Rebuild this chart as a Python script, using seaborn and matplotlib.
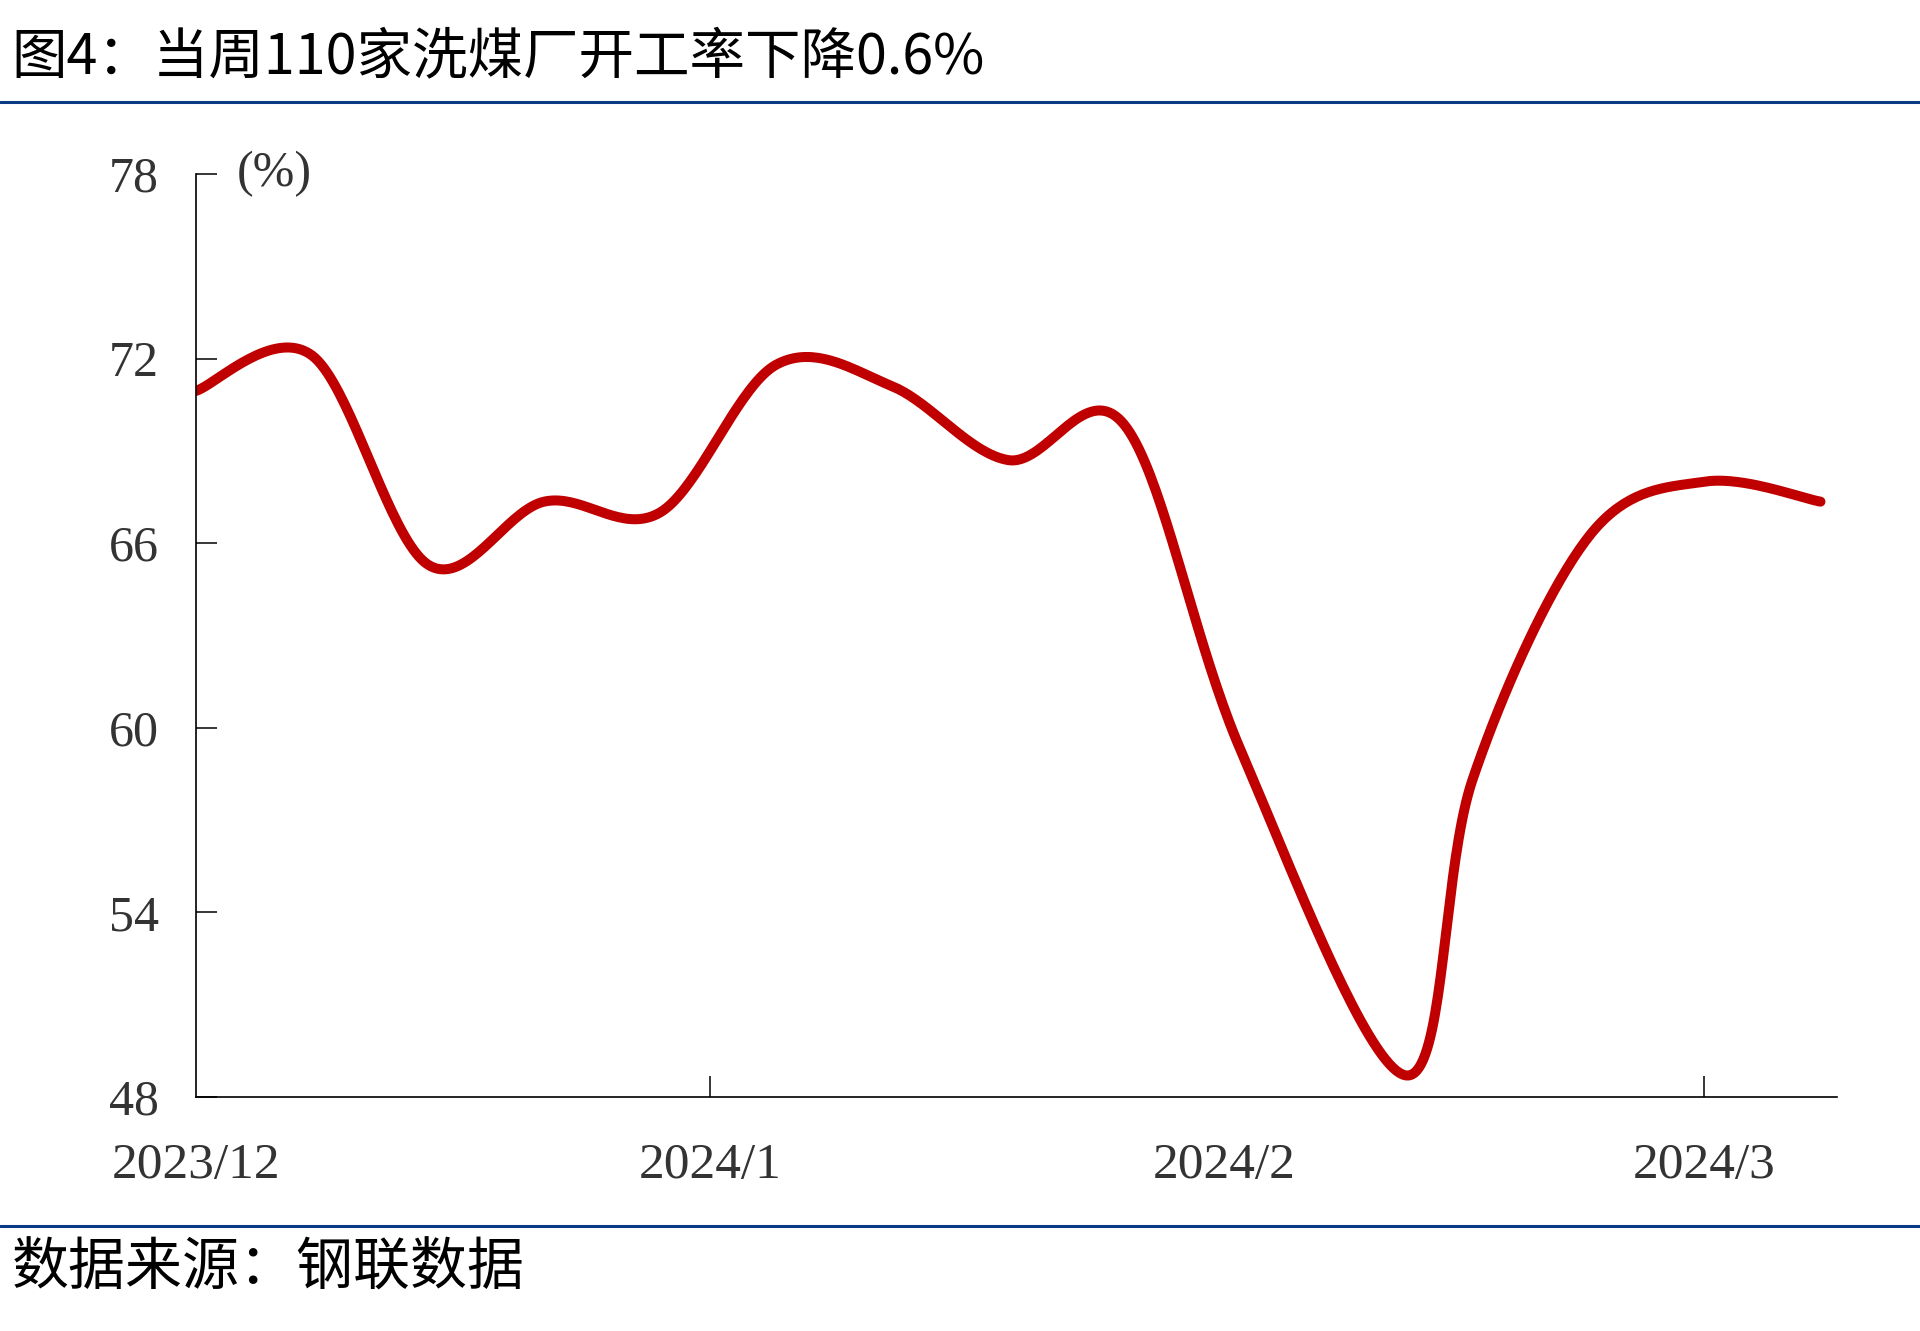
import numpy as np
import pandas as pd
import matplotlib
matplotlib.use("Agg")
import matplotlib.pyplot as plt
import matplotlib.dates as mdates
from matplotlib.lines import Line2D
import seaborn as sns

# ---------------- data ----------------
dates = ["2023-12-01", "2023-12-08", "2023-12-15", "2023-12-22", "2023-12-29",
         "2024-01-05", "2024-01-12", "2024-01-19", "2024-01-26", "2024-02-02",
         "2024-02-12", "2024-02-16", "2024-02-23", "2024-03-01", "2024-03-08"]
rate = [70.95, 72.1, 65.3, 67.35, 67.0,
        71.8, 71.1, 68.7, 69.85, 59.3,
        48.7, 58.3, 66.2, 68.0, 67.35]

month_ticks = ["2023-12-01", "2024-01-01", "2024-02-01", "2024-03-01"]
month_labels = ["2023/12", "2024/1", "2024/2", "2024/3"]
tickmark_months = ["2024-01-01", "2024-03-01"]
y_ticks = [48, 54, 60, 66, 72, 78]

title = "图4：当周110家洗煤厂开工率下降0.6%"
source = "数据来源：钢联数据"
unit = "(%)"

LINE_COLOR = "#C00000"
RULE_COLOR = "#0B3A84"
TEXT_COLOR = "#333333"

# ---------------- style ----------------
sns.set_style("ticks")
plt.rcParams["font.family"] = ["Liberation Serif", "DejaVu Sans"]

df = pd.DataFrame({"date": pd.to_datetime(dates), "rate": rate})
xnum = mdates.date2num(df["date"])
yv = df["rate"].to_numpy(dtype=float)


def smooth_path(x, y, n=40):
    """Excel-like smoothed line: cubic Bezier segments with Catmull-Rom tangents."""
    px = np.concatenate([[x[0]], x, [x[-1]]])
    py = np.concatenate([[y[0]], y, [y[-1]]])
    xs, ys = [], []
    t = np.linspace(0, 1, n)
    for i in range(1, len(px) - 2):
        p0 = np.array([px[i - 1], py[i - 1]])
        p1 = np.array([px[i], py[i]])
        p2 = np.array([px[i + 1], py[i + 1]])
        p3 = np.array([px[i + 2], py[i + 2]])
        c1 = p1 + (p2 - p0) / 6.0
        c2 = p2 - (p3 - p1) / 6.0
        b = ((1 - t) ** 3)[:, None] * p1 + (3 * (1 - t) ** 2 * t)[:, None] * c1 \
            + (3 * (1 - t) * t ** 2)[:, None] * c2 + (t ** 3)[:, None] * p2
        if i > 1:
            b = b[1:]
        xs.append(b[:, 0])
        ys.append(b[:, 1])
    return np.concatenate(xs), np.concatenate(ys)


sx, sy = smooth_path(xnum, yv)
curve = pd.DataFrame({"x": sx, "rate": sy})

fig = plt.figure(figsize=(19.2, 13.31), dpi=100)
ax = fig.add_axes([0.1021, 0.1758, 0.8547, 0.6935])

sns.lineplot(data=curve, x="x", y="rate", ax=ax, color=LINE_COLOR,
             linewidth=7.2, sort=False, estimator=None,
             solid_capstyle="round", solid_joinstyle="round")

# axes limits / ticks
x0 = mdates.date2num(pd.Timestamp("2023-12-01"))
x1 = mdates.date2num(pd.Timestamp("2024-03-09"))
ax.set_xlim(x0, x1)
ax.set_ylim(48, 78)
ax.set_yticks(y_ticks)
ax.set_yticklabels([str(v) for v in y_ticks])
ax.xaxis.remove_overlapping_locs = False
ax.set_xticks(mdates.date2num(pd.to_datetime(month_ticks)))
ax.set_xticklabels(month_labels)
ax.set_xticks(mdates.date2num(pd.to_datetime(tickmark_months)), minor=True)

ax.tick_params(axis="x", which="major", direction="in", length=0, pad=33,
               labelsize=37, labelcolor=TEXT_COLOR)
ax.tick_params(axis="x", which="minor", direction="in", length=15, width=1.1,
               color="black")
ax.tick_params(axis="y", which="major", direction="in", length=15, width=1.1,
               pad=27, labelsize=36, labelcolor=TEXT_COLOR, color="black")

for side in ["top", "right"]:
    ax.spines[side].set_visible(False)
for side in ["left", "bottom"]:
    ax.spines[side].set_color("black")
    ax.spines[side].set_linewidth(1.2)

ax.set_xlabel("")
ax.set_ylabel("")

# unit label
ax.text(0.025, 1.0, unit, transform=ax.transAxes, ha="left", va="center",
        fontsize=36, color=TEXT_COLOR, family=["Liberation Serif", "DejaVu Sans"])

# title, rules, source
fig.text(0.006, 0.957, title, ha="left", va="center", fontsize=40,
         color="black", family=["Noto Sans CJK SC", "DejaVu Sans"])
fig.add_artist(Line2D([0, 1], [0.9234, 0.9234], transform=fig.transFigure,
                      color=RULE_COLOR, linewidth=2.2))
fig.add_artist(Line2D([0, 1], [0.0789, 0.0789], transform=fig.transFigure,
                      color=RULE_COLOR, linewidth=2.2))
fig.text(0.006, 0.047, source, ha="left", va="center", fontsize=41,
         color="black", family=["Noto Sans CJK SC", "DejaVu Sans"])

fig.savefig("out.png", dpi=100, facecolor="white")
